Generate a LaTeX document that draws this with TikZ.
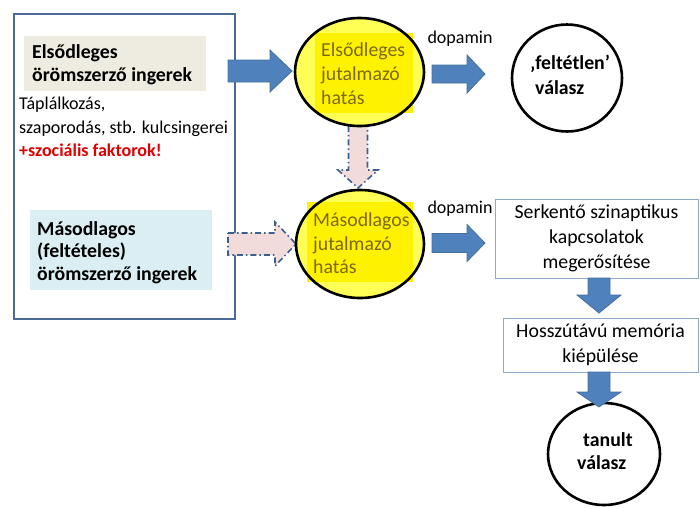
\documentclass[tikz,border=0pt]{standalone}
\usepackage{fontspec}
\setmainfont{Carlito}
\usetikzlibrary{calc,shapes.geometric}
\definecolor{beige}{HTML}{EEECE1}
\definecolor{lblue}{HTML}{DAEEF3}
\definecolor{bigborder}{HTML}{4A6B9A}
\definecolor{arrfill}{HTML}{4F81BD}
\definecolor{arrdraw}{HTML}{41719C}
\definecolor{pinkfill}{HTML}{F2DCDB}
\definecolor{dashcol}{HTML}{3C5F8E}
\definecolor{olive}{RGB}{125,105,15}
\definecolor{boxborder}{HTML}{8EAACB}
\definecolor{redtxt}{HTML}{E00000}
\definecolor{yel}{HTML}{FFFF55}
\newcommand\blockarr[6]{%
  \coordinate (bah) at ($(#3)!#6pt!(#2)$);
  \draw[#1] ($(#2)!#4pt!90:(#3)$) -- ($(bah)!#4pt!-90:(#2)$) -- ($(bah)!#5pt!-90:(#2)$)
    -- (#3) -- ($(bah)!#5pt!90:(#2)$) -- ($(bah)!#4pt!90:(#2)$) -- ($(#2)!#4pt!-90:(#3)$) -- cycle;}
\tikzset{
  x=1pt, y=-1pt,
  smallf/.style={font=\fontsize{18}{23.5}\selectfont},
  bluearr/.style={fill=arrfill, draw=arrdraw, line width=0.8pt, line join=miter},
  dasharr/.style={fill=pinkfill, draw=dashcol, line width=1.6pt, dash pattern=on 6pt off 3pt on 1.5pt off 3pt},
  oval/.style={ellipse, draw=black, line width=2.6pt, inner sep=0pt},
  hl/.style={fill=yellow, inner sep=0pt, anchor=north west},
  txt/.style={inner sep=0pt, align=left},
  rbox/.style={draw=boxborder, line width=1pt, fill=white, align=center, inner sep=0pt, font=\fontsize{19.8}{25}\selectfont},
}
\begin{document}
\begin{tikzpicture}
\useasboundingbox (0,0) rectangle (700,507);
% left big box
\node[draw=bigborder, line width=2pt, minimum width=221pt, minimum height=305pt, anchor=north west, inner sep=0pt] (big) at (13,13) {};
\node[fill=beige, minimum width=182pt, minimum height=55pt, anchor=north west, inner sep=0pt] (prim) at (24,36) {};
\node[txt, anchor=west, font=\bfseries\fontsize{19.8}{23}\selectfont] (primt) at (32,64.5) {Elsődleges\\örömszerző ingerek};
\node[txt, anchor=west, font=\fontsize{18}{23.5}\selectfont] (kulcs) at (19,127) {Táplálkozás,\\szaporodás, stb. kulcsingerei\\\textcolor{redtxt}{\bfseries +szociális faktorok!}};
\node[fill=lblue, minimum width=182pt, minimum height=80pt, anchor=north west, inner sep=0pt] (sec) at (30,210) {};
\node[txt, anchor=west, font=\bfseries\fontsize{19.8}{22.5}\selectfont] (sect) at (37,252.5) {Másodlagos\\(feltételes)\\örömszerző ingerek};
% coordinates for arrow ends
\coordinate (a1s) at (228,71); \coordinate (a1e) at (292,71);
\coordinate (a2s) at (432,74); \coordinate (a2e) at (485,74);
\coordinate (a3s) at (432,243); \coordinate (a3e) at (485,243);
\coordinate (d1s) at (358,121); \coordinate (d1e) at (358,188);
\coordinate (d2s) at (228,244); \coordinate (d2e) at (296,244);
\blockarr{dasharr}{d1s}{d1e}{9.5}{20}{18}
\blockarr{dasharr}{d2s}{d2e}{11}{22}{21}
\blockarr{bluearr}{a1s}{a1e}{11}{21}{22}
\blockarr{bluearr}{a2s}{a2e}{9}{19}{18}
\blockarr{bluearr}{a3s}{a3e}{9.5}{18.5}{18}
% circle 1
\node[oval, fill=yel, draw=none, minimum width=129pt, minimum height=108pt] (c1f) at (359.5,72) {};
\node[hl, minimum width=98pt, minimum height=80pt] (c1h) at (315,33) {};
\node[oval, minimum width=129pt, minimum height=108pt] (c1) at (359.5,72) {};
\node[txt, anchor=west, text=olive, font=\fontsize{19.8}{24}\selectfont] (c1t) at (321,74) {Elsődleges\\jutalmazó\\hatás};
% circle 2
\node[oval, fill=yel, draw=none, minimum width=128pt, minimum height=108pt] (c2f) at (360,244) {};
\node[hl, minimum width=106pt, minimum height=80pt] (c2h) at (307,202) {};
\node[oval, minimum width=128pt, minimum height=108pt] (c2) at (360,244) {};
\node[txt, anchor=west, text=olive, font=\fontsize{19.8}{23.5}\selectfont] (c2t) at (313,243.5) {Másodlagos\\jutalmazó\\hatás};
% dopamin labels
\node[smallf, inner sep=0pt] (dop1) at (460,39) {dopamin};
\node[smallf, inner sep=0pt] (dop2) at (460,209) {dopamin};
% circle 3
\node[oval, minimum width=110pt, minimum height=107pt] (c3) at (567,78) {};
\node[txt, anchor=west, font=\bfseries\fontsize{19.8}{25}\selectfont] (c3t) at (530,74.5) {‚feltétlen’\\\hspace*{5pt}válasz};
% right boxes
\node[rbox, minimum width=203pt, minimum height=79pt] (serk) at (596.5,238.5) {Serkentő szinaptikus\\kapcsolatok\\megerősítése};
\node[rbox, minimum width=195pt, minimum height=54pt] (hossz) at (600.5,345) {Hosszútávú memória\\kiépülése};
% tanult
\node[oval, minimum width=112pt, minimum height=102pt] (c4) at (604,454) {};
\node[txt, anchor=west, font=\bfseries\fontsize{19.8}{23}\selectfont] (c4t) at (577,451.5) {\hspace*{6pt}tanult\\válasz};
% down arrows
\coordinate (a4s) at (599,278); \coordinate (a4e) at (599,313);
\coordinate (a5s) at (599,372); \coordinate (a5e) at (599,407);
\blockarr{bluearr}{a4s}{a4e}{11}{22}{18}
\blockarr{bluearr}{a5s}{a5e}{11}{22}{15}
\end{tikzpicture}
\end{document}
